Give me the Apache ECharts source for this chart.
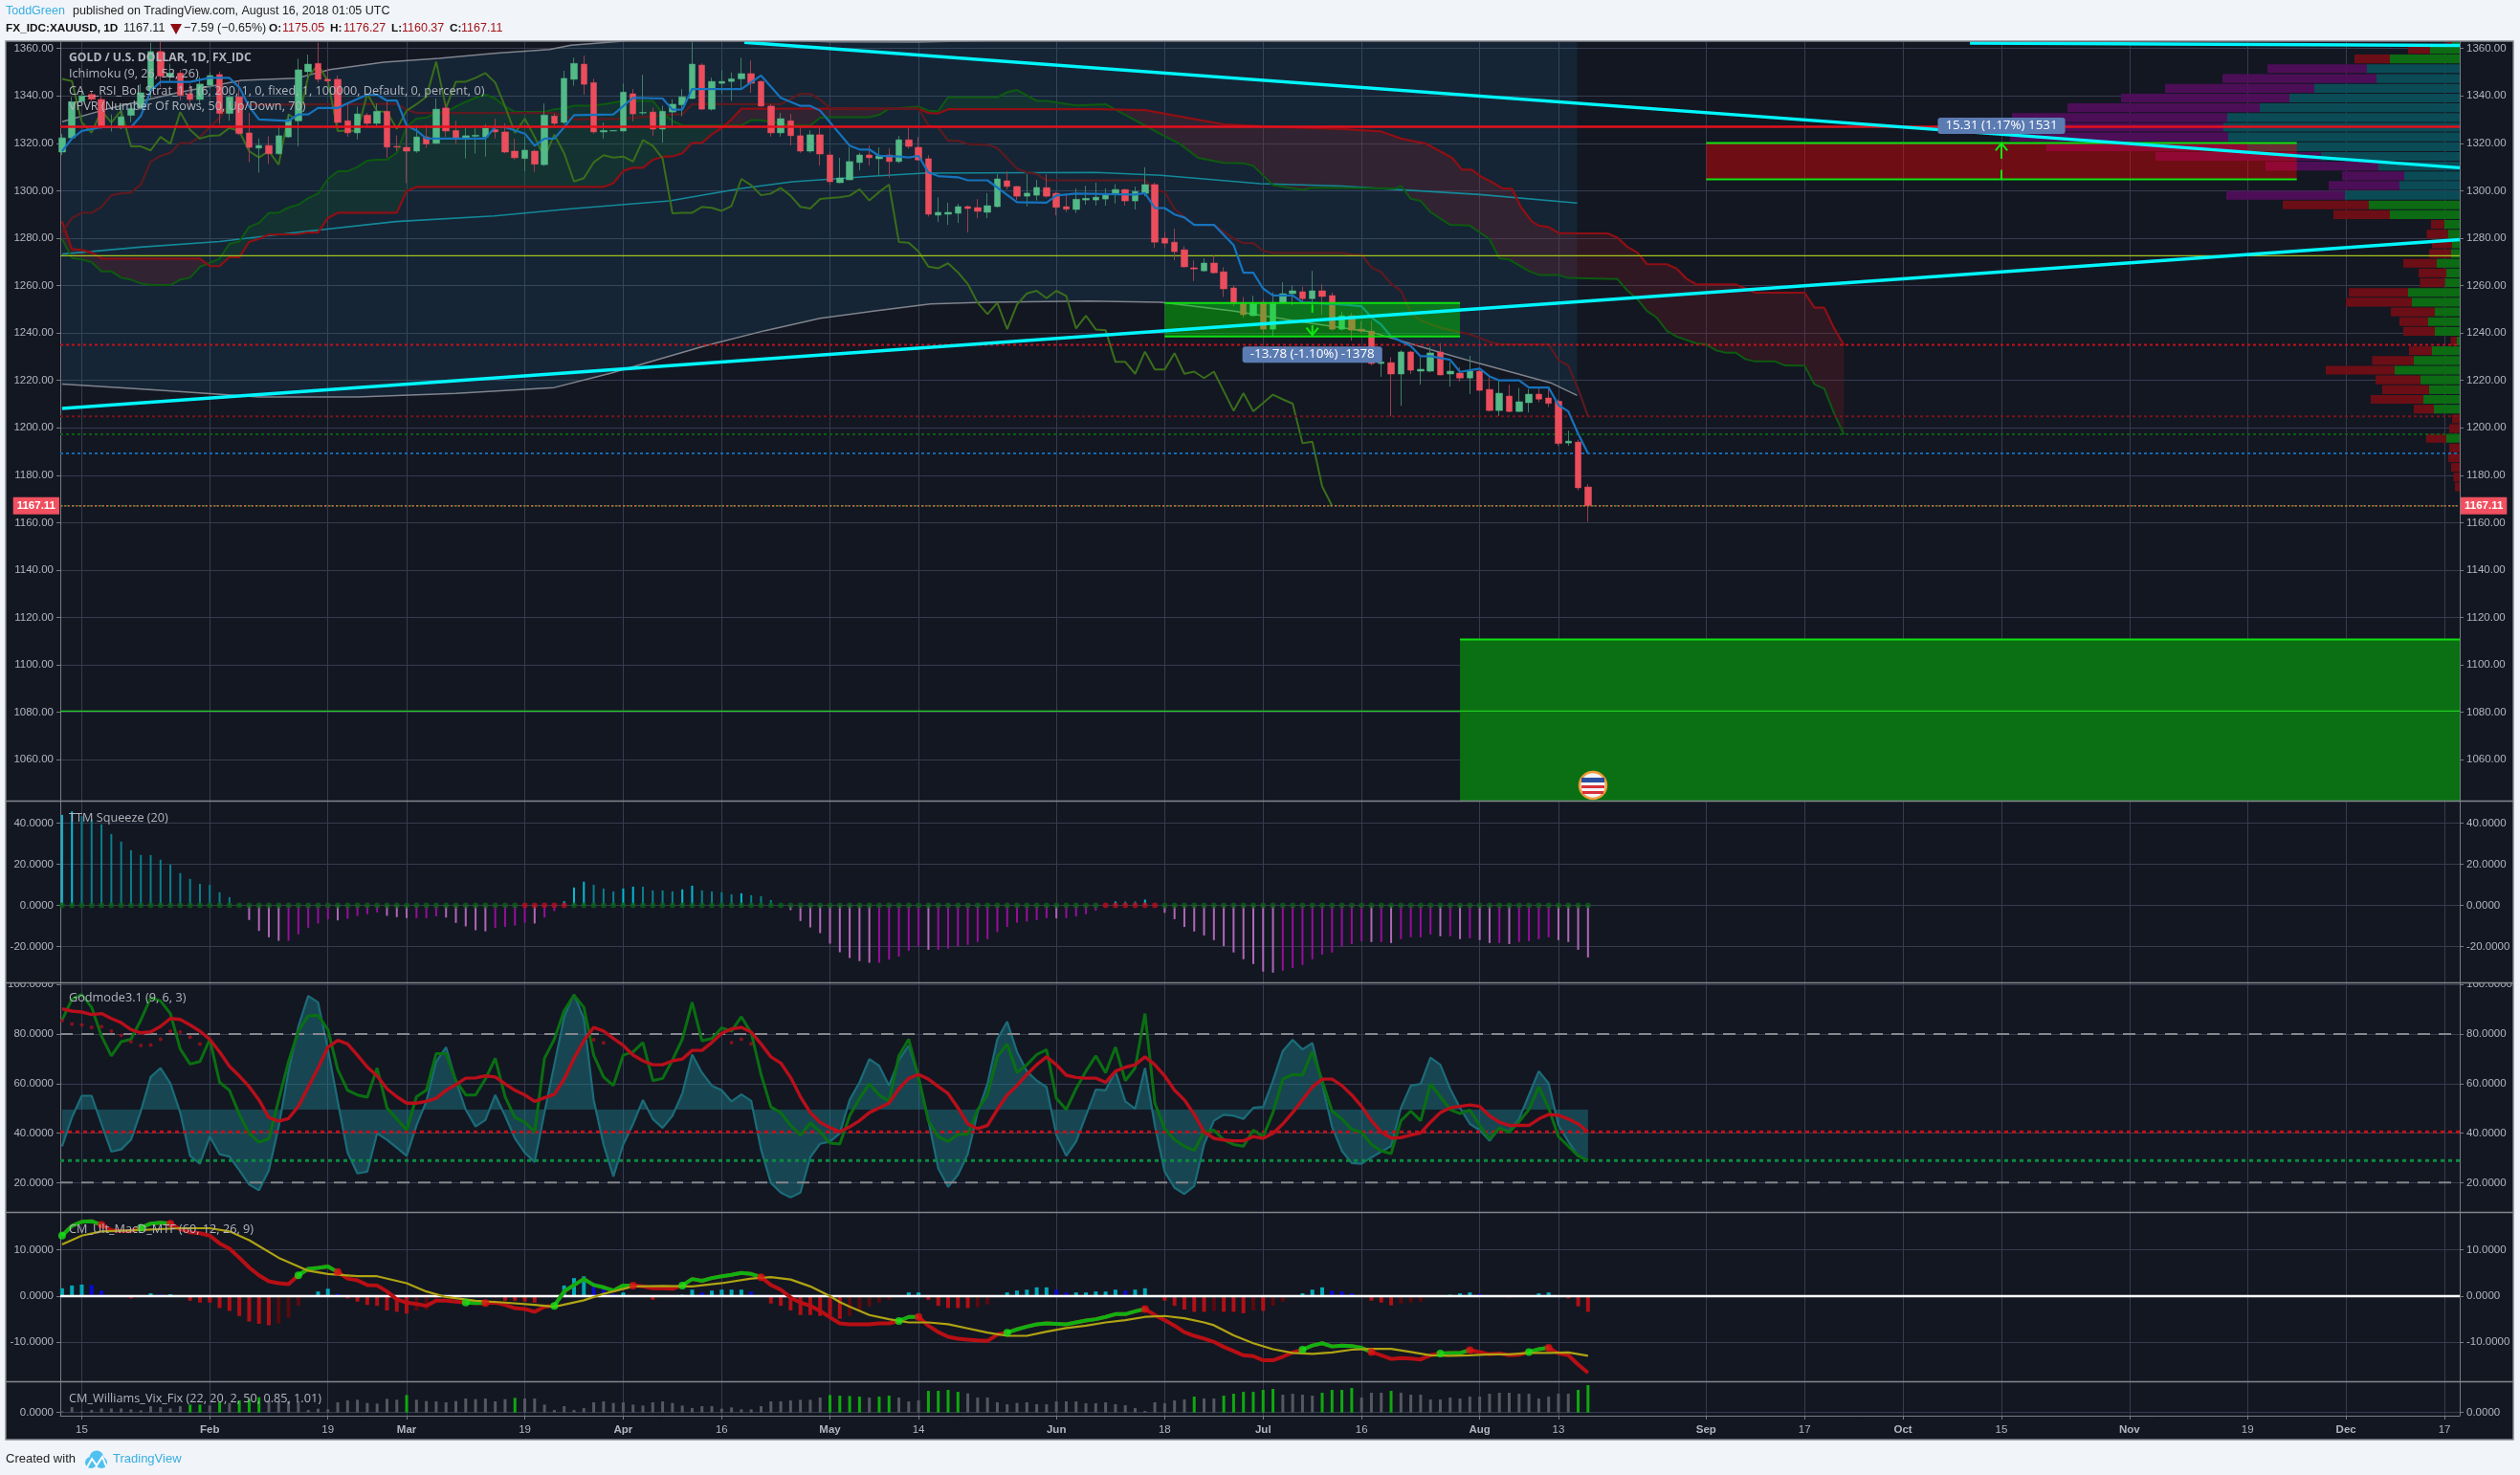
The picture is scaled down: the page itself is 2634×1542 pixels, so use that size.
<!DOCTYPE html>
<html><head><meta charset="utf-8">
<style>html,body{margin:0;padding:0;background:#f1f4f8}#c{width:2634px;height:1542px}</style>
<script src="https://cdn.jsdelivr.net/npm/echarts@6/dist/echarts.min.js"></script>
</head><body><div id="c"></div>
<script>
// ---------- candles: open, close, low, high (one row per trading day, first row = Jan 12 2018)
const candles = [
[1316.3,1322.3,1315,1324],[1322.3,1337.5,1321.4,1339.5],[1337.7,1340,1337,1342],[1340.6,1338.6,1337.9,1342],[1338.5,1326.8,1326,1340.3],
[1326.7,1327,1325,1332.2],[1326.5,1331.2,1326,1337],[1331.8,1334.6,1328.8,1337.4],[1334.9,1341.3,1334,1345],[1342.2,1358.7,1338.9,1362.5],
[1358.7,1348.3,1343.6,1363],[1348,1349.6,1346,1353.6],[1349.6,1340.2,1338,1351],[1340.9,1338.5,1336,1345],[1338.5,1345,1336,1348],
[1344.5,1348.6,1343,1350],[1349,1332.6,1328.1,1350.3],[1332.6,1339.6,1329.5,1340.5],[1339.6,1324.1,1323.4,1346.3],[1324.4,1318.3,1312,1332.8],
[1318,1319.1,1307.6,1322],[1319.1,1315.6,1311.3,1323],[1315.6,1323.2,1315.3,1327.5],[1322.7,1330,1322.4,1332.4],[1329.5,1351,1318.7,1355.7],
[1350.2,1353.4,1347.6,1357.4],[1353.7,1347,1345.6,1362.4],[1347,1346.3,1345,1351.7],[1347,1328.8,1328.1,1348.6],[1329.5,1324.4,1322.8,1336.8],
[1324.4,1332.4,1321.6,1335.5],[1331.9,1328.4,1326.5,1332.8],[1328.4,1333.5,1326.8,1336.8],[1333.5,1318.4,1313.9,1337.5],[1318.7,1318.4,1316.7,1323.4],
[1318.3,1316.7,1303.2,1328.8],[1316.7,1322.7,1316,1327.5],[1322.7,1319.7,1318,1327.8],[1320,1334.4,1319.7,1338.9],[1334.9,1325.2,1322.8,1337],
[1325.4,1321.7,1319.8,1329.5],[1321.7,1323.2,1313.6,1327],[1323,1323.4,1315.7,1326.3],[1322.7,1326.4,1314.4,1328.1],[1325.8,1324.8,1322,1330.4],
[1324.8,1316.3,1315.8,1328.4],[1316.7,1313.9,1313.2,1322],[1313.6,1317.1,1308.2,1322.8],[1316.7,1311.2,1308,1317.4],[1311,1331.9,1310.4,1336.8],
[1331.5,1328.4,1327.5,1332.5],[1328.8,1347.4,1328,1350.6],[1347,1353.7,1344.3,1356.1],[1353.4,1344.9,1340.5,1357],[1345.6,1324.8,1324.1,1347.2],
[1324.8,1325.4,1322,1328.8],[1325.2,1325.4,1325.2,1325.4],[1325.2,1341.6,1325,1345.2],[1340.9,1332.4,1329.2,1342.9],[1332.8,1333,1331.9,1348.9],
[1333.2,1326,1323.2,1335.1],[1326,1333.5,1320.3,1335.9],[1333.2,1336.5,1327.5,1338.6],[1336.2,1339.6,1331.5,1342.9],[1338.9,1353.4,1338.7,1362.6],
[1353,1334.4,1334.2,1353.7],[1334.4,1346.1,1333.8,1347.7],[1345.3,1346.1,1340.9,1350.9],[1346.1,1347.2,1337.9,1349.9],[1347.2,1349.4,1343.2,1356.1],
[1349.4,1345.3,1341.3,1355],[1346.1,1335.7,1335.5,1346.6],[1335.7,1324.4,1322.8,1336.5],[1324.4,1330.4,1322.8,1332.8],[1329.5,1323.2,1319.1,1332.4],
[1323.2,1316.7,1316,1326.8],[1316.7,1323.6,1316,1325.5],[1323.6,1315.5,1310.6,1326.5],[1315.1,1303.8,1302.3,1316.7],[1303.4,1305.4,1303.2,1313.9],
[1304.6,1312.3,1304.5,1318.3],[1311.9,1315.1,1308.6,1316],[1315.1,1313.9,1310.6,1319.1],[1313.5,1314.7,1306.6,1318.3],[1315.1,1312.3,1305.5,1318],
[1312.3,1321.5,1311.6,1323.1],[1321.5,1318.7,1317.8,1326.4],[1318.3,1313,1312.6,1322.7],[1313.5,1290.1,1289.1,1315],[1289.7,1290.9,1286.8,1297.2],
[1290.1,1290.9,1285.6,1294.9],[1290.5,1293.3,1286.4,1294.5],[1293.3,1292.5,1282.4,1293.8],[1292.9,1291.3,1288.4,1296.5],[1290.9,1293.7,1288.4,1299],
[1293.3,1305,1293,1307],[1304.2,1301.8,1300.6,1308.2],[1301.8,1297.7,1296.1,1302],[1297.7,1299,1293.4,1307],[1298.1,1301.4,1295.9,1304.6],
[1301.3,1297.7,1297,1306.9],[1298.9,1293,1289.6,1299.5],[1293.3,1292.2,1291,1298.7],[1292.1,1296.4,1290.6,1301],[1296.1,1296.8,1294.1,1302.1],
[1296.1,1297.3,1293.7,1303.4],[1296.5,1298.1,1293.7,1301],[1298.9,1300.5,1294.6,1302.7],[1300.5,1295.7,1293.7,1300.8],[1295.7,1299.7,1292.1,1301.7],
[1298.9,1302.6,1297.6,1309.9],[1302.6,1278.3,1275.9,1303.4],[1280,1277.9,1275.9,1282.7],[1278.3,1274.3,1270.7,1284],[1275.1,1267.9,1267.5,1276.6],
[1267.5,1267,1261.9,1270.7],[1266.2,1269.5,1266,1271.5],[1269.5,1265.4,1265,1272.6],[1265.8,1258.6,1255.2,1267.7],[1259,1252.5,1251.3,1260.1],
[1252.5,1247.7,1246.5,1255.2],[1247.3,1252.5,1247,1255.7],[1252.9,1241.6,1239.6,1254.3],[1241.6,1252.9,1238.8,1257.1],[1252.9,1256.6,1252.6,1261.4],
[1256.6,1257.8,1251.6,1260.1],[1257.4,1254.5,1253.3,1259.5],[1254.5,1257.8,1253,1266.2],[1257.8,1255.4,1247.7,1260.6],[1255.8,1241.6,1241,1257.1],
[1241.6,1247.3,1241,1248.9],[1247.3,1241.2,1236.8,1248.5],[1241.6,1240.8,1240,1245],[1240.8,1227.1,1226.4,1245.2],[1227.1,1227.8,1221.5,1231],
[1227.5,1222.7,1204.8,1229.8],[1222.7,1232,1209.3,1232.8],[1232,1224.3,1222.7,1232.5],[1223.9,1224.7,1218.2,1229.8],[1223.9,1231.6,1223.4,1234.1],
[1232,1222.3,1222.2,1235.7],[1222.7,1223.9,1217.4,1227.8],[1223.1,1221,1219.5,1225.5],[1221,1223.9,1214.2,1230.4],[1223.9,1215.8,1215.5,1224.7],
[1216.2,1207.3,1206.9,1221.4],[1207.3,1214.6,1205,1220.1],[1213.4,1206.9,1206.5,1218.2],[1206.9,1211,1206.6,1216.8],[1210.6,1214.2,1206.5,1216.4],
[1214.2,1212.1,1210.8,1217.4],[1212.6,1210.3,1208.8,1217],[1211.2,1193.4,1192.5,1212],[1193.6,1194.4,1192.4,1198.8],[1194,1174.7,1173.6,1195],
[1175.05,1167.11,1160.37,1176.27]];

// ---------- Ichimoku / Bollinger, as read (bar index, price)
const tenkan = [[0,1316.7],[1,1322],[2,1325.2],[4,1326.8],[7,1326.8],[8,1331.5],[9,1342.2],[10,1345.9],[13,1345.9],[15,1347.6],[17,1347.6],[18,1343.6],[19,1335.5],[20,1330.1],[23,1329.5],[24,1332.2],[25,1332.2],[26,1334.9],[28,1334.9],[29,1336.9],[31,1340.5],[32,1340.5],[33,1338],[34,1338],[35,1327.5],[36,1325.4],[37,1322],[43,1322],[44,1327],[45,1326.8],[47,1324.1],[48,1319],[49,1322],[50,1322],[51,1326.8],[52,1331.9],[56,1332.2],[58,1339.2],[61,1338.9],[62,1334.2],[63,1334.2],[64,1342.9],[69,1342.9],[71,1348.6],[73,1339.2],[75,1335.8],[76,1335.8],[77,1333.8],[80,1319],[81,1317.4],[82,1317.4],[83,1314.7],[85,1314.4],[86,1314],[87,1314.7],[88,1307.7],[89,1306.2],[91,1305.7],[92,1304.4],[94,1304.4],[97,1295.2],[100,1295],[101,1298],[103,1298.8],[109,1298.4],[110,1299],[111,1292.7],[112,1292.7],[113,1290],[114,1288.7],[115,1285.6],[117,1285.6],[119,1277.1],[120,1265.4],[121,1265.4],[122,1258.7],[123,1255.8],[125,1255.8],[126,1252.9],[127,1252.7],[130,1252],[132,1251.3],[133,1246.6],[134,1243.5],[135,1238.5],[137,1234.5],[138,1230.2],[139,1230.2],[141,1228.7],[142,1223.6],[144,1225],[145,1221.7],[146,1220],[148,1220],[149,1217],[151,1217],[152,1209.6],[153,1206.9],[154,1197.5],[155,1189.2]];
const kijun = [[0,1282.4],[1,1288.5],[2,1290.7],[3,1290.7],[4,1293.2],[5,1298.1],[6,1298.9],[7,1299.2],[8,1302.6],[9,1312.3],[10,1314.7],[11,1316],[12,1320.1],[13,1320.1],[14,1322.7],[16,1330.8],[17,1336.2],[33,1336.6],[34,1336.6],[35,1334.2],[36,1332.8],[50,1332.8],[52,1330.1],[57,1330.4],[62,1332.2],[63,1332.2],[64,1336.5],[73,1336.5],[75,1340.9],[76,1340.9],[77,1338.5],[78,1334.9],[87,1334.6],[88,1327.5],[89,1326.8],[90,1321.1],[91,1321.1],[92,1319.7],[94,1319.4],[95,1318],[97,1309.3],[98,1307.7],[99,1307.1],[100,1304.4],[110,1304.4],[111,1300.4],[112,1299.5],[113,1292.3],[115,1285.6],[117,1285.6],[119,1279.8],[120,1277.9],[121,1277.9],[122,1274.6],[123,1273.8],[130,1273.8],[131,1273.1],[132,1273],[133,1267.7],[134,1265.7],[135,1260.7],[136,1257.8],[137,1248.6],[138,1245.3],[140,1242.2],[142,1240.3],[143,1239.5],[145,1236.3],[146,1235.2],[151,1235.2],[152,1228.5],[153,1226.2],[154,1216.4],[155,1204.9]];
const chikou = [1347.2,1346.3,1328.8,1324.5,1333.8,1328.8,1333.8,1318.7,1318.7,1317,1322.7,1319.8,1333.2,1325.7,1322,1323.2,1323.4,1326.5,1325.2,1316.7,1314,1316.7,1311,1332.2,1329.5,1348.3,1353,1346.3,1325.2,1325.4,1325.2,1340.9,1333.5,1333.2,1326.1,1333.8,1336.5,1339.6,1354.4,1334.9,1346,1346,1347.6,1349.6,1345.6,1335.5,1324.4,1330.4,1322.7,1314,1323.7,1315.8,1303.9,1305.3,1312,1315,1314,1314.4,1312.3,1321.4,1319,1313.6,1290.5,1290.7,1290.7,1293.2,1292.8,1291.5,1293.6,1305,1302.3,1298.1,1298.8,1301.2,1297.9,1293.2,1292.5,1296.5,1296.9,1297.2,1297.9,1300.6,1295.9,1299.5,1302.6,1278.4,1278.1,1274.3,1268,1267.3,1269.4,1265.6,1260.7,1252.7,1248,1252.7,1241.6,1252,1256.7,1257.8,1254.7,1257.8,1255.6,1241.9,1247.3,1241.5,1241.2,1227.8,1227.8,1222.8,1232.1,1224.6,1224.6,1231.5,1222.8,1223.7,1221,1223.7,1215.5,1207.2,1214.6,1207,1210.5,1214,1212,1210.2,1193.5,1194.2,1175.3,1167.11];
const spanA = [[0,1279.7],[1,1271.6],[2,1271],[3,1269.9],[4,1266],[5,1266],[6,1263.3],[7,1262.5],[8,1260.9],[9,1260.2],[11,1260.2],[12,1262.5],[13,1263.3],[14,1267.9],[15,1269.6],[16,1271.4],[17,1277.7],[18,1278.6],[19,1284.8],[20,1286.4],[21,1290.7],[22,1290.7],[23,1292.9],[24,1294.1],[25,1296.9],[26,1298.8],[27,1304.9],[28,1308.2],[29,1308.2],[30,1310],[31,1312.7],[32,1313.1],[33,1313.1],[34,1316],[35,1327],[36,1330.4],[37,1330.8],[38,1332.8],[39,1333.2],[40,1335.5],[41,1337.5],[42,1339.2],[43,1340.5],[44,1338.9],[45,1335.5],[46,1333.2],[49,1333.2],[50,1334.4],[51,1334.9],[52,1335.9],[54,1335.9],[55,1336.5],[57,1337.9],[60,1337.9],[61,1332.8],[62,1329.5],[63,1327.5],[69,1327.5],[70,1329.8],[71,1329.7],[72,1329],[73,1328.4],[74,1327.5],[76,1327.5],[77,1330.8],[78,1331],[82,1331],[83,1332],[84,1334.6],[87,1335.5],[88,1333.8],[89,1333.6],[90,1339.4],[95,1339.4],[96,1341.6],[97,1342.5],[99,1337.9],[100,1337.9],[103,1336],[106,1336.5],[108,1332],[110,1327.5],[112,1323],[113.5,1319.9],[115.4,1313.9],[118,1311.8],[120,1311.6],[121,1310.5],[123,1302.4],[126,1300.4],[127,1301.3],[135.5,1301],[136,1302],[137,1296.6],[138,1295.7],[139,1291],[141,1285.6],[143,1285.3],[145,1279.6],[146,1271.5],[147,1271],[149,1266.1],[150,1264.5],[152,1264.5],[153,1263.2],[158,1262.7],[159,1257.9],[160,1254.3],[161,1249.3],[162,1246.4],[163,1240.9],[164,1238.5],[166,1235.6],[167,1235.2],[168,1232.7],[169,1231.7],[170,1231.7],[171,1228.9],[172,1228],[174,1228],[175,1226.3],[177,1226.2],[178,1218.4],[179,1216.5],[180,1206.1],[181,1197.2]];
const spanB = [[0,1287.1],[1,1275.4],[2,1275],[3,1274],[4,1271.4],[14,1271.4],[15,1268.2],[16,1268.2],[17,1272],[18,1272],[19,1278.4],[20,1279.7],[21,1281.5],[24,1281.7],[25,1282.4],[26,1282.4],[27,1288.5],[28,1290.7],[34,1290.7],[35,1299.9],[36,1301.6],[55,1301.6],[56,1303.2],[57,1308.4],[58,1309.7],[59,1309.7],[60,1313],[61,1314.3],[62,1314.5],[63,1315.8],[64,1320.2],[65,1320.2],[66,1323.8],[67,1326.5],[68,1330.1],[69,1334.6],[87,1334.6],[88,1332.8],[89,1332.6],[90,1334.4],[105,1334.4],[110,1334],[114,1331],[118,1328],[124,1326.8],[130,1326],[134,1325],[136,1322],[138.5,1319.9],[141.2,1313.9],[142.2,1308.9],[143.2,1308.9],[144.2,1305.8],[145.3,1303.5],[146.3,1301],[147.3,1300.8],[148.2,1293],[149.3,1287],[150,1285.3],[151,1284.7],[152,1282.2],[154,1282],[157,1282],[158,1280.2],[159,1276.3],[160,1274],[161,1269],[163,1269],[164,1267.2],[165,1262.9],[166,1260.5],[170,1260.5],[172,1257],[177,1257],[178,1250.7],[179,1250.7],[180,1242],[181,1234.9]];
const bbUpper = [[0,1329.1],[4.85,1334.8],[11.8,1341.4],[18.2,1346.6],[23.8,1347.5],[27.2,1351.1],[32.7,1354.2],[38.3,1355.8],[43.9,1358],[49.5,1359.6],[51.7,1361.4],[56.7,1363],[60,1364.5],[70,1364],[78,1362.8],[87,1362.7],[95,1363.5],[110,1364],[125,1365],[154,1366]];
const bbMid = [[0,1273.3],[7.9,1276.2],[16,1278.6],[23.8,1282.4],[33.9,1287],[43.9,1289.4],[51.7,1292.4],[61.7,1295.7],[69,1301],[74.2,1303.8],[82.6,1306.2],[87.6,1307.4],[105,1307.7],[111.6,1306.5],[121.7,1303],[130,1302],[135.6,1300.5],[144,1298.4],[153.9,1294.8]];
const bbLower = [[0,1218.5],[10,1215.8],[20,1213],[30,1213],[40,1214.5],[50,1217],[55.7,1223],[65.5,1234.8],[71.4,1241],[77,1246.2],[82.6,1249.3],[88.2,1252.3],[93.7,1253],[104.3,1253.5],[111.6,1253],[118.9,1249.3],[127.2,1243.9],[132.8,1240.6],[140,1231.8],[144,1227.1],[151.2,1219],[153.9,1213.7]];

// ---------- drawing tools
const trendLines = [[[0,1208.2],[243.55,1279.4]],[[69.3,1362.6],[243.55,1309.7]],[[193.8,1362.3],[243.55,1361.3]]];
const priceLevels = [1327,1272.6,1235,1204.8,1197.3,1189.2,1167.11,1080.5];
const targetZone = [142,243.55,1110.7,1042.76];
const shortBox = [112,142,1252.7,1238.5];
const longBox = [167,227,1320.1,1304.8];

// ---------- VPVR rows: mid price, up volume, down volume
const vpvrPrice = [1362.6,1359.6,1355.6,1351.5,1347.3,1343.2,1339.1,1335,1330.9,1326.8,1322.7,1318.6,1314.5,1310.4,1306.3,1302.2,1298.1,1294,1289.9,1285.8,1281.7,1277.6,1273.5,1269.4,1265.3,1261.2,1257.1,1253,1248.9,1244.8,1240.7,1236.6,1232.5,1228.4,1224.3,1220.2,1216.1,1212,1207.9,1203.8,1199.7,1195.6,1191.5,1187.4,1183.3,1179.2,1175.1];
const vpvrUp = [8,31,73,97,87,152,178,209,243,247,242,222,145,85,58,63,120,95,73,16,12.5,8,9,24,14,15.5,54,50,26,33,26,3,29,48,68,41,32,38,27,0,0,14,0,0,0,0,0];
const vpvrDown = [6,23,37,104,161,156,176,201,225,242,228,210,173,118,65,74,124,90,59,14,22,21,23,35,29,26,62,69,46,30,33,6.5,24,43.5,72,47,49,55,21,8,11,21,11,12,9,6.5,5];
const vpvrValueArea = [1298,1353];

// ---------- TTM Squeeze
const ttmValues = [44,45.7,43.4,41.9,39.4,34.7,31,26.8,24.5,24.5,22.2,19.8,15.7,12.9,10.5,10,6.4,4,0.5,-7.1,-12.4,-15.5,-17.2,-17.2,-14.1,-10.9,-8.8,-6.7,-7.3,-6.5,-5.1,-4.3,-3.4,-5.1,-5.7,-6.2,-6.2,-6.2,-5.3,-5.9,-8.5,-10.2,-12.1,-12.6,-10.9,-10.4,-9.8,-8.5,-8.8,-5.9,-2.8,2,8.7,11.5,10,8.2,6.8,8.2,9.1,9.1,7.3,7.3,6.8,7.8,9.6,7.3,6.8,6.4,5.4,5.9,5,4.5,2.6,0.3,-2.3,-7.6,-10.7,-13.5,-18.6,-22.8,-25.6,-27.1,-27.9,-27.9,-26.4,-24.9,-22,-20,-21.6,-21.6,-21,-19.9,-19.2,-17.8,-16.4,-13,-10.5,-8.4,-7.8,-7.1,-6.2,-6.3,-6.2,-5.4,-4.3,-2.6,-0.3,1.9,1.9,1.9,2.8,0.3,-3.6,-6.7,-10.5,-12.7,-14.6,-16.9,-19.8,-22.9,-26.2,-28.5,-32.2,-32.7,-31.8,-30.4,-29,-26.2,-23.9,-22.9,-20,-18.8,-17.4,-17.8,-17.8,-18.3,-16.4,-15.5,-15.5,-14.1,-15,-15,-16.4,-16,-16.9,-18.3,-18.3,-18.8,-17.8,-17.4,-16.4,-15.5,-16.9,-17.8,-21.6,-25.3];
const squeezeBars = [47,48,49,50,51,106,107,108,109,110,111];

// ---------- Godmode
const godTeal = [34.7,46.3,55.1,55.1,43.7,32.5,33.4,37.3,48.9,62.7,66.3,60.1,48.3,30.8,27.6,38.6,31.5,30.5,25,19.2,16.9,25,42.5,65,83.1,95.4,92.8,74,52.8,32.1,23.7,24.4,39.9,37.3,34.1,30.8,43.1,52.8,68.9,74.7,61.2,49.5,42.7,45.3,55.4,47,37.9,32.1,28.3,48.3,67.6,87,96,86.3,53.4,35.4,22.5,35.4,43.7,53.4,45.7,42.1,47,56,71.7,64.4,59.2,57.3,52.8,55.6,53,33.4,19.9,16,14,16,30.2,35.7,36.6,39.9,53.4,60.5,69.9,67.2,59.2,69.5,75.4,62.5,45,25.7,18.3,23.1,31.5,48.3,59.9,77.9,85,72.8,65,61.2,58.6,39.2,30.8,36.6,47,57.6,57.3,65,52.8,49.8,66.3,43.1,24.4,17.9,15.4,18.6,35.4,45,47.4,47,45.7,50.2,50.6,61.2,73.2,77.7,73.8,76.4,59.9,42.5,32.8,27.9,27.6,30.2,32.5,34.7,50.2,59.2,59.9,70.5,67.6,57.9,50.2,43.7,41.2,36.9,41.8,40.8,45.7,55.4,65,60.1,43.1,36.6,30.8,28.9];
const godGreen = [85.7,94.1,96,90.8,79.2,71.2,76.9,77.9,85.7,94.7,93.4,88.3,74,67.9,68.9,77.9,60.5,57.3,47.6,39.9,36.3,37.7,53.4,68.9,81.2,87.4,87.6,81.8,65.7,57.3,55.4,54.5,66.3,50.2,45.7,41.2,54.7,57.3,72.1,72.1,61.2,55.4,55.4,61.8,70.2,54.7,46.3,44.4,40.5,70.2,77.9,89.5,95.7,90.8,71.5,62.7,59.2,71.5,72.8,76.6,61.2,62.1,69.5,77.9,92.8,77.3,78.2,82.5,81.2,87,80.5,63.7,50.5,48.3,43.1,39.2,44.1,40.5,36,35.6,47,54,59.9,55.4,52.8,71.2,77.9,62.5,45,38.6,36.6,39.5,39.5,49.5,55.4,70.8,76,64.4,67.6,71.7,73.7,54,49.5,57.9,65,71.2,64.4,74.7,61.2,66.3,88.3,52.1,41.8,37.3,34.7,33,40.5,41.2,37.3,35.4,34.7,41.2,38.6,48.3,61.8,63.7,63.4,73,61.2,48.9,45.7,41.5,40.3,35.4,32.8,31.7,45,48.9,45,59.9,54.7,49.5,47.9,49.3,43.1,37.7,42.1,40.3,44.6,49.5,58.6,50.2,38.6,34.7,30.8,28.9];
const godRed = [90.2,89.3,88.9,87.9,88.3,86.3,84.6,81.8,80.5,80.9,83.1,86.3,85.9,83.7,81.2,77.9,72.8,67,63.1,58.8,53.4,46.3,44.8,45.9,50.8,58.6,66.3,74.7,77.5,76,71.5,66.7,63.1,57.9,54.7,52.1,52.1,52.8,54.1,57.3,59.6,62.2,62.3,63.1,62.7,59.9,57.3,55.4,52.8,54.3,55.6,61.8,70.2,77.3,82.7,81.2,78.2,75.4,71.5,69.2,67.6,67.6,69.2,69.9,73.4,73.4,76.6,80.3,82.1,82.7,80.8,76,70.8,68.3,62.5,54.7,48.3,44.4,42.2,40.5,42.5,45,48.3,50.2,52.1,57.9,62.1,63.7,61.8,58.8,56,50.2,43.7,41.8,43.1,49.5,55.4,59.2,63.7,67.6,70.8,67.6,63.4,62.5,62.2,62.2,60.5,65,66.6,67.6,70.8,67.6,63.1,57.3,53.4,47.6,40.5,37.9,37.2,36.9,36.9,38.6,37.9,39.9,43.7,48.3,53.4,58.6,61.8,61.8,59.2,55.4,50.8,45,40.5,38,38.2,39.2,40.1,44.4,48.3,50.2,50.8,51.4,50.8,47,44.4,43.1,43.1,43.1,45.7,47.5,47.2,45.7,43.7,40.5];
const godRedDots = [[0,85.4],[1,84.1],[2,83.7],[3,82.7],[4,83],[5,81.2],[6,79.5],[7,76.9],[8,75.4],[9,75.6],[10,77.9],[11,81.2],[12,80.8],[13,78.8],[14,76],[54,77.7],[55,76.4],[68,76.5],[69,77.9],[70,76.1]];
const godBase = 49.5, godLevels = [80,40.5,28.9,20];

// ---------- CM Ult MacD
const macdHist = [1.7,2.3,2.5,2.4,1.2,0.05,-0.1,-0.5,-0.2,0.6,0.4,0.4,-0.1,-1,-1.4,-1.4,-2.6,-3.2,-4.3,-5.5,-6,-6.3,-5.9,-4.7,-2.1,0.05,1,1.6,0.5,-0.5,-1.2,-1.9,-2.1,-3.1,-3.4,-3.8,-3.1,-2.9,-1,-0.1,-0.1,-0.1,-0.1,-0.1,-0.3,-1,-1,-1.2,-1.4,-0.1,0.05,2.3,3.9,4.3,2.9,1.6,0.5,0.8,0.1,-0.1,-0.8,-0.3,0.05,0.3,1.4,0.8,1.2,1.4,1.4,1.4,1,0.1,-1.6,-2.1,-3.1,-4.1,-4.1,-4.3,-4.3,-4.9,-4.3,-3.2,-2.2,-1.4,-0.8,0.05,0.8,0.8,-0.8,-2.1,-2.6,-2.6,-2.6,-2.4,-1.8,-0.3,0.8,1.2,1.4,1.9,1.9,1.4,0.8,0.8,0.8,1,1,1.4,1.2,1.4,1.7,0.05,-1,-2.1,-2.9,-3.4,-3.4,-3.2,-3.4,-3.4,-3.7,-3.1,-3.2,-2.1,-1.2,0.05,0.6,1.4,1.9,1.2,1,0.6,0.05,-1,-1.4,-2,-1.6,-1.4,-1.2,0.05,0.05,0.3,0.6,0.8,0.5,0.05,0.05,-0.3,-0.1,0.05,0.6,0.8,0.05,-0.5,-2.2,-3.4];
const macdLine = [13.1,15.2,16.1,16.2,15.4,14.3,14.1,14.1,14.8,15.7,15.9,15.7,14.5,13.8,13.6,13.1,11.4,10.3,8.3,6.2,4.5,3.2,2.8,2.6,4.5,5.9,6.1,6.4,5.2,3.8,3.4,2.4,2.3,1,-0.7,-1.4,-1.7,-2.1,-1,-1,-1.2,-1.4,-1.5,-1.5,-1.4,-1.9,-2.6,-2.8,-3.4,-2.3,-2.1,1,2.4,3.7,2.4,1.9,1.2,2.3,2.3,2.1,1.7,1.7,1.6,2.3,3.7,3.3,3.9,4.3,4.6,5,4.8,4.1,2.4,1.4,-0.3,-1.4,-2.1,-3.2,-4.6,-5.9,-6.1,-6.1,-6.1,-5.9,-5.9,-5.4,-4.5,-4.5,-6.4,-7.8,-8.8,-9.2,-9.4,-9.6,-9.7,-8.3,-7.9,-7.2,-6.6,-6.1,-5.9,-6,-6.1,-5.7,-5.3,-5,-4.5,-3.9,-3.9,-3.3,-2.8,-4.1,-5.2,-6.4,-7.8,-8.6,-9.2,-9.9,-11,-11.9,-12.8,-13,-13.9,-13.9,-13.1,-12.2,-11.6,-10.7,-10.2,-10.9,-10.7,-10.8,-11.2,-12.1,-12.8,-13.6,-13.4,-13.5,-13.7,-12.8,-12.4,-12.3,-12.3,-11.7,-12.1,-12.6,-12.4,-12.8,-12.7,-12.1,-11.5,-11.2,-12.4,-12.8,-14.8,-16.6];
const macdSignal = [[0,11.2],[2,13.1],[4,14],[8,14.3],[12,14.7],[15,14.7],[17,14],[19,12.1],[22,8.3],[25,5.5],[27,4.8],[30,4.3],[32,4.3],[35,2.8],[37,1],[39,-0.2],[42,-1],[45,-1.4],[48,-1.9],[50,-2.3],[53,-0.9],[55,0.5],[58,2.1],[61,2.2],[64,2.1],[67,2.8],[70,3.8],[72,4.1],[74,3.6],[76,2.1],[78,0],[79,-1.3],[80,-2.3],[82,-4.1],[84,-5],[86,-5.7],[88,-5.7],[90,-6.1],[92,-7],[94,-7.9],[96,-8.6],[98,-8.6],[100,-7.7],[102,-6.9],[104,-6.4],[106,-5.7],[108,-5.2],[110,-4.5],[112,-4.3],[114,-4.8],[116,-5.7],[117,-6.3],[119,-8.5],[121,-10.2],[123,-11.5],[125,-12.3],[127,-12.5],[129,-12.2],[131,-11.6],[133,-11.4],[135,-11.4],[137,-12.1],[139,-12.8],[141,-12.9],[143,-12.8],[145,-12.6],[147,-12.6],[149,-12.3],[151,-12.3],[153,-12.2],[155,-12.9]];
const macdAbove = [[0,4],[8,11],[24,28],[41,43],[50,58],[63,71],[85,87],[96,110],[126,133],[140,143],[149,151]];

// ---------- CM Williams Vix Fix
const vixValues = [.04,.17,.04,.08,.13,.13,.13,.10,.07,.20,.17,.13,.20,.25,.25,.22,.32,.30,.38,.42,.48,.37,.35,.35,.35,.08,.12,.10,.32,.38,.40,.30,.28,.43,.40,.55,.40,.36,.35,.32,.36,.44,.42,.44,.35,.42,.46,.44,.44,.25,.08,.20,.08,.14,.32,.35,.30,.32,.25,.22,.32,.35,.30,.22,.14,.20,.20,.12,.16,.10,.10,.20,.35,.35,.38,.40,.40,.47,.55,.53,.52,.50,.47,.50,.53,.47,.35,.38,.68,.68,.71,.65,.60,.47,.47,.32,.26,.30,.32,.26,.26,.35,.35,.35,.29,.29,.32,.26,.23,.14,.05,.32,.29,.38,.41,.50,.44,.44,.53,.59,.65,.65,.71,.74,.56,.59,.56,.53,.62,.71,.71,.77,.47,.62,.62,.68,.62,.56,.56,.41,.41,.47,.44,.50,.50,.59,.62,.62,.59,.59,.44,.50,.59,.59,.71,.86];
const vixFlagged = [13,14,16,18,19,20,35,46,78,79,80,81,83,84,88,89,90,91,115,118,119,120,121,122,123,128,129,130,131,135,154,155];

// ---------- axes
const timeTicks = [2,15,27,35,47,57,67,78,87,101,112,122,132,144,152,167,177,187,197,210,222,232,242];
const timeLabels = ['15','Feb','19','Mar','19','Apr','16','May','14','Jun','18','Jul','16','Aug','13','Sep','17','Oct','15','Nov','19','Dec','17'];
const priceTicks = [1060,1080,1100,1120,1140,1160,1180,1200,1220,1240,1260,1280,1300,1320,1340,1360];
const ttmTicks = [-20,0,20,40], godTicks = [20,40,60,80,100], macdTicks = [-10,0,10], vixTicks = [0];

// ---------- layout and colours
const GRID='#363c4e', AXIS='#787b86', TXT='#b2b5be', FONT='"Liberation Sans"', LBL='"Open Sans"';
const L=63, W=2508, xMin=-0.185, xMax=243.55;
const panes=[
 {top:44,bottom:837,min:1042.76,max:1362.7,ticks:priceTicks,dec:2},
 {top:838,bottom:1027,min:-37.44,max:50.47,ticks:ttmTicks,dec:4},
 {top:1028,bottom:1267,min:8.15,max:100.5,ticks:godTicks,dec:4},
 {top:1268,bottom:1444,min:-18.43,max:18.01,ticks:macdTicks,dec:4},
 {top:1445,bottom:1480,min:-0.099,max:0.951,ticks:vixTicks,dec:4}];

const grid=panes.map(p=>({left:L,width:W,top:p.top,height:p.bottom-p.top}));
const xAxis=panes.map((p,n)=>({type:'value',gridIndex:n,min:xMin,max:xMax,position:'bottom',
  axisLine:{show:n===4,onZero:false,lineStyle:{color:AXIS}},
  axisTick:{show:n===4,customValues:timeTicks,length:4,lineStyle:{color:AXIS}},
  splitLine:{show:true,lineStyle:{color:GRID,width:1}},
  axisLabel:{show:n===4,customValues:timeTicks,margin:9,color:TXT,fontFamily:FONT,fontSize:11.5,hideOverlap:false,
    formatter:v=>{const t=timeLabels[timeTicks.indexOf(v)]||'';return /[A-Z]/.test(t)?'{b|'+t+'}':'{n|'+t+'}';},
    rich:{b:{fontWeight:'bold',color:TXT,fontFamily:FONT,fontSize:11.5},n:{color:TXT,fontFamily:FONT,fontSize:11.5}}}}));
xAxis.push({type:'value',gridIndex:0,min:0,max:W,inverse:true,show:false,position:'top'});
const yAx=(p,n,pos)=>({type:'value',gridIndex:n,min:p.min,max:p.max,position:pos,scale:true,
  axisLine:{show:true,onZero:false,lineStyle:{color:AXIS}},
  axisTick:{show:true,customValues:p.ticks,length:4,lineStyle:{color:AXIS}},
  splitLine:{show:pos==='left',lineStyle:{color:GRID,width:1.2}},
  axisLabel:{customValues:p.ticks,color:TXT,fontFamily:FONT,fontSize:11.5,margin:7,showMinLabel:true,showMaxLabel:true,hideOverlap:false,formatter:v=>v.toFixed(p.dec)}});
const yAxis=panes.map((p,n)=>yAx(p,n,'left')).concat(panes.map((p,n)=>yAx(p,n,'right')));

const series=[];
const lineS=(g,data,color,width,z,extra)=>series.push(Object.assign({type:'line',xAxisIndex:g,yAxisIndex:g,data,symbol:'none',smooth:false,silent:true,z,animation:false,
   lineStyle:{color,width}},extra||{}));
const hLevel=(g,v,color,width,dash,z,x1)=>lineS(g,[[xMin,v],[x1===undefined?xMax:x1,v]],color,width,z,{lineStyle:{color,width,type:dash||'solid'}});
const idx=a=>a.map((v,i)=>[i,v]);
function valueAt(arr,x){for(let i=1;i<arr.length;i++){if(x<=arr[i][0]){const a=arr[i-1],b=arr[i];return a[1]+(b[1]-a[1])*(x-a[0])/(b[0]-a[0]);}}return arr[arr.length-1][1];}
function bandPts(a,b,x0,x1){const top=a.filter(p=>p[0]>x0&&p[0]<x1),bot=b.filter(p=>p[0]>x0&&p[0]<x1).reverse();
  return [[x0,valueAt(a,x0)],...top,[x1,valueAt(a,x1)],[x1,valueAt(b,x1)],...bot,[x0,valueAt(b,x0)]];}
const polySeries=(polys,z)=>series.push({type:'custom',xAxisIndex:0,yAxisIndex:0,z,clip:true,silent:true,animation:false,data:polys.map((p,i)=>[i]),
  renderItem:(params,api)=>{const s=polys[params.dataIndex];return {type:'polygon',shape:{points:s.pts.map(q=>api.coord(q))},style:{fill:s.fill}};}});

// Bollinger fill, then Ichimoku cloud
polySeries([{pts:bandPts(bbUpper,bbLower,0,153.9),fill:'rgba(40,140,200,0.12)'}],1);
const cloudRed='rgba(150,30,35,0.22)',cloudGreen='rgba(20,120,40,0.16)';
const zones=[[0,14.7,cloudRed],[14.7,67.3,cloudGreen],[67.3,84,cloudRed],[84,107.5,cloudGreen],[107.5,181,cloudRed]];
polySeries(zones.map(z=>({pts:bandPts(spanA,spanB,z[0],z[1]),fill:z[2]})),2);

// VPVR on its own volume axis
const vpvrRows=vpvrPrice.map((p,i)=>[p,vpvrUp[i],vpvrDown[i]]);
series.push({type:'custom',xAxisIndex:5,yAxisIndex:0,z:2,clip:true,silent:true,animation:false,data:vpvrRows,
  encode:{x:1,y:0},
  renderItem:(params,api)=>{const r=vpvrRows[params.dataIndex],inVA=r[0]>vpvrValueArea[0]&&r[0]<vpvrValueArea[1];
    const t=r[0]+1.85,b=r[0]-1.85;const rect=(v0,v1,fill)=>{const a=api.coord([v0,t]),c=api.coord([v1,b]);return {type:'rect',shape:{x:c[0],y:a[1],width:a[0]-c[0],height:c[1]-a[1]},style:{fill}};};
    return {type:'group',children:[rect(0,r[1],inVA?'rgba(10,78,90,0.95)':'rgba(12,112,19,0.95)'),rect(r[1],r[1]+r[2],inVA?'rgba(80,14,92,0.95)':'rgba(113,14,21,0.95)')]};}});

// Bollinger and Ichimoku lines
lineS(0,bbUpper,'#80838c',1.5,3);lineS(0,bbLower,'#80838c',1.5,3);lineS(0,bbMid,'#13899a',1.6,3);
lineS(0,spanA,'#0d5a10',2,3);lineS(0,spanB,'#8f0f14',2.2,3);
lineS(0,kijun,'#5c1a20',2.2,3);lineS(0,idx(chikou),'#3a6e1b',2,3);

// Candles: dim wick series, then bright body series
const upBody='#53b987',dnBody='#eb4d5c';
const wickData=candles.map((c,i)=>[i,c[0],c[1],c[2],c[3]]);
const bodyData=candles.map((c,i)=>[i,c[0],c[1],Math.min(c[0],c[1]),Math.max(c[0],c[1])]);
series.push({type:'candlestick',xAxisIndex:0,yAxisIndex:0,z:4,silent:true,animation:false,barWidth:1,data:wickData,clip:true,
  itemStyle:{color:'#3f8065',color0:'#96404d',borderColor:'#3f8065',borderColor0:'#96404d',borderWidth:1}});
series.push({type:'candlestick',xAxisIndex:0,yAxisIndex:0,z:4,silent:true,animation:false,barWidth:7,data:bodyData,clip:true,
  itemStyle:{color:upBody,color0:dnBody,borderColor:upBody,borderColor0:dnBody,borderWidth:0.5}});
lineS(0,tenkan,'#1673bd',2.2,4.5);

// horizontal levels
hLevel(0,priceLevels[1],'#a3c31f',1.2,'solid',3);
hLevel(0,priceLevels[3],'#7a1419',2,[3,3],3);
hLevel(0,priceLevels[4],'#0c5c14',2,[3,3],3);
hLevel(0,priceLevels[5],'#1668ad',2,[3,3],3);
hLevel(0,priceLevels[2],'#c6101b',2,[3,3],3);
hLevel(0,priceLevels[6],'#18701c',1.4,[3,3],5);
hLevel(0,priceLevels[6],'#ef6a50',1.2,[2,2],5);

// position boxes
const boxes=[{b:shortBox,fill:'rgba(0,235,0,0.4)'},{b:longBox,fill:'rgba(250,0,0,0.4)'},{b:targetZone,fill:'#0b7013',noBottom:true}];
series.push({type:'custom',xAxisIndex:0,yAxisIndex:0,z:5,clip:true,silent:true,animation:false,data:boxes.map((b,i)=>[i]),
  renderItem:(params,api)=>{const o=boxes[params.dataIndex],a=api.coord([o.b[0],o.b[2]]),c=api.coord([o.b[1],o.b[3]]);
    const hl=(y)=>({type:'line',shape:{x1:a[0],y1:y,x2:c[0],y2:y},style:{stroke:'#10e010',lineWidth:2}});
    const kids=[{type:'rect',shape:{x:a[0],y:a[1],width:c[0]-a[0],height:c[1]-a[1]},style:{fill:o.fill}},hl(a[1])];
    if(!o.noBottom)kids.push(hl(c[1]));
    return {type:'group',children:kids};}});
hLevel(0,priceLevels[7],'#22cc22',1.2,'solid',6);
hLevel(0,priceLevels[0],'#e5101e',2.4,'solid',6);
trendLines.forEach(t=>lineS(0,t,'#00f6ff',3.4,6));

// arrows of the position tools
const arrows=[{x:127,segs:[[1252,1248.6],[1243.3,1239.2]],tip:1239.2,dir:-1,wing:3},{x:197,segs:[[1304.8,1308.8],[1313.5,1320]],tip:1320,dir:1,wing:3}];
series.push({type:'custom',xAxisIndex:0,yAxisIndex:0,z:7,clip:true,silent:true,animation:false,data:arrows.map((a,i)=>[i]),
  renderItem:(params,api)=>{const o=arrows[params.dataIndex];const kids=[];const st={stroke:'#10e810',lineWidth:2};
    o.segs.forEach(s=>{const a=api.coord([o.x,s[0]]),b=api.coord([o.x,s[1]]);kids.push({type:'line',shape:{x1:a[0],y1:a[1],x2:b[0],y2:b[1]},style:st});});
    const t=api.coord([o.x,o.tip]),l=api.coord([o.x-0.6,o.tip-o.dir*o.wing]),r=api.coord([o.x+0.6,o.tip-o.dir*o.wing]);
    kids.push({type:'polyline',shape:{points:[l,t,r]},style:Object.assign({fill:'none'},st)});
    return {type:'group',children:kids};}});

// measure labels and last-price tags
const tags=[{x:127,p:1230.9,t:'-13.78 (-1.10%) -1378',bg:'#5b7cb3',font:'13.4px '+LBL,pad:[2,8]},
            {x:197,p:1327.4,t:'15.31 (1.17%) 1531',bg:'#5b7cb3',font:'13.4px '+LBL,pad:[2,8]}];
series.push({type:'custom',xAxisIndex:0,yAxisIndex:0,z:8,clip:false,silent:true,animation:false,data:tags.map((a,i)=>[i]),
  renderItem:(params,api)=>{const o=tags[params.dataIndex],c=api.coord([o.x,o.p]);
    return {type:'text',x:c[0],y:c[1],style:{text:o.t,fill:'#fff',font:o.font,align:'center',verticalAlign:'middle',backgroundColor:o.bg,padding:o.pad,borderRadius:3}};}});
const lastTags=[{x:xMin,al:'right',dx:-1},{x:xMax,al:'left',dx:1}];
series.push({type:'custom',xAxisIndex:0,yAxisIndex:0,z:9,clip:false,silent:true,animation:false,data:lastTags.map((a,i)=>[i]),
  renderItem:(params,api)=>{const o=lastTags[params.dataIndex],c=api.coord([o.x,priceLevels[6]]);
    return {type:'text',x:c[0]+o.dx,y:c[1],style:{text:priceLevels[6].toFixed(2),fill:'#fff',font:'bold 11.5px '+FONT,align:o.al,verticalAlign:'middle',backgroundColor:'#f0505f',padding:[3,4,3,4]}};}});

// TTM
series.push({type:'bar',xAxisIndex:1,yAxisIndex:1,z:3,silent:true,animation:false,barWidth:2,data:idx(ttmValues),
  itemStyle:{color:p=>{const v=ttmValues[p.dataIndex],q=p.dataIndex?ttmValues[p.dataIndex-1]:v-1;return v>=0?(v>q?'#00bcd4':'#0a7f8d'):(v<q?'#b066b8':'#960e9c');}}});
series.push({type:'scatter',xAxisIndex:1,yAxisIndex:1,z:4,silent:true,animation:false,symbol:'circle',symbolSize:6,data:ttmValues.map((v,i)=>[i,0]),
  itemStyle:{color:p=>squeezeBars.includes(p.dataIndex)?'#b50f1c':'#0b5f16'}});

// Godmode
lineS(2,idx(godTeal),'#1b6c78',2.2,3,{areaStyle:{origin:godBase,color:'rgba(29,135,150,0.42)',opacity:1}});
hLevel(2,godLevels[0],'#85878c',2,[13,9],4,243);hLevel(2,godLevels[3],'#85878c',2,[13,9],4,243);
hLevel(2,godLevels[1],'#c2101b',3,[4,4],4);hLevel(2,godLevels[2],'#0b8a40',3,[4,4],4);
lineS(2,idx(godGreen),'#0a6f12',3,5);
lineS(2,idx(godRed),'#b80f1a',3.4,6);
series.push({type:'scatter',xAxisIndex:2,yAxisIndex:2,z:6,silent:true,animation:false,symbolSize:4,data:godRedDots,itemStyle:{color:'#a3101c'}});

// MACD
series.push({type:'bar',xAxisIndex:3,yAxisIndex:3,z:3,silent:true,animation:false,barWidth:4,data:idx(macdHist),
  itemStyle:{color:p=>{const v=macdHist[p.dataIndex],q=p.dataIndex?macdHist[p.dataIndex-1]:v-1;return v>=0?(v>=q?'#02a8b8':'#0a0ad0'):(v<=q?'#b01015':'#5a0a0e');}}});
hLevel(3,0,'#ffffff',2.4,'solid',4);
lineS(3,idx(macdLine),'#b80f14',4,5);
const inAbove=i=>macdAbove.some(r=>i>=r[0]&&i<=r[1]);
lineS(3,macdLine.map((v,i)=>[i,inAbove(i)?v:null]),'#11b011',4,5.5,{connectNulls:false});
lineS(3,macdSignal,'#b0a312',2.2,6);
series.push({type:'scatter',xAxisIndex:3,yAxisIndex:3,z:7,silent:true,animation:false,symbolSize:8,data:macdAbove.map(r=>[r[0],macdLine[r[0]]]),itemStyle:{color:'#18e018'}});
series.push({type:'scatter',xAxisIndex:3,yAxisIndex:3,z:7,silent:true,animation:false,symbolSize:8,data:macdAbove.map(r=>[r[1],macdLine[r[1]]]),itemStyle:{color:'#e01014'}});

// Vix
series.push({type:'bar',xAxisIndex:4,yAxisIndex:4,z:3,silent:true,animation:false,barWidth:3,data:idx(vixValues),
  itemStyle:{color:p=>vixFlagged.includes(p.dataIndex)?'#0fa90f':'#555860'}});

// ---------- static text and chrome
const txt=(x,y,text,fill,font,extra)=>({type:'text',silent:true,z:50,style:Object.assign({x,y,text,fill,font,textVerticalAlign:'middle',verticalAlign:'middle'},extra||{})});
const F12='12.5px '+FONT,B12='bold 11.8px '+FONT;
const DR='#a3141a';
const hline=(y)=>({type:'line',z:30,silent:true,shape:{x1:6,y1:y,x2:2627,y2:y},style:{stroke:'#83868d',lineWidth:1.4}});
const cover=(x,y,w,h)=>({type:'rect',z:25,silent:true,shape:{x,y,width:w,height:h},style:{fill:'#131722'}});
const graphic=[
 {type:'rect',z:-100,silent:true,shape:{x:6,y:43,width:2621,height:1462},style:{fill:'#131722'}},
 {type:'rect',z:40,silent:true,shape:{x:6,y:43,width:2621,height:1462},style:{fill:'none',stroke:'#85888e',lineWidth:1.4}},
 // axis labels are cut off at the pane edges
 cover(7,1480,54,8),cover(2576,1480,50,8),cover(7,1020,54,7.5),cover(2576,1020,50,7.5),
 hline(837.5),hline(1027.5),hline(1267.5),hline(1444.5),
 txt(6,12,'ToddGreen','#37aee2',F12),
 txt(76,12,'published on TradingView.com, August 16, 2018 01:05 UTC','#222',F12),
 txt(6,30,'FX_IDC:XAUUSD, 1D','#111',B12),
 txt(129,30,'1167.11','#222',F12),
 {type:'polygon',z:50,silent:true,shape:{points:[[178,25],[190,25],[184,36]]},style:{fill:'#8f0d12'}},
 txt(192,30,'\u22127.59 (\u22120.65%)','#222',F12),
 txt(281,30,'O:','#111',B12),txt(295,30,'1175.05',DR,F12),
 txt(345,30,'H:','#111',B12),txt(359,30,'1176.27',DR,F12),
 txt(409,30,'L:','#111',B12),txt(420,30,'1160.37',DR,F12),
 txt(470,30,'C:','#111',B12),txt(482,30,'1167.11',DR,F12),
 txt(72,60.7,'GOLD / U.S. DOLLAR, 1D, FX_IDC',TXT,'bold 12.2px '+LBL),
 txt(72,77.7,'Ichimoku (9, 26, 52, 26)',TXT,'12.7px '+LBL),
 txt(72,95,'CA_-_RSI_Bol_Strat_1.1 (6, 200, 1, 0, fixed, 1, 100000, Default, 0, percent, 0)',TXT,'12.7px '+LBL),
 txt(72,111.6,'VPVR (Number Of Rows, 50, Up/Down, 70)',TXT,'12.7px '+LBL),
 txt(72,855,'TTM Squeeze (20)',TXT,'12.7px '+LBL),
 txt(72,1043.5,'Godmode3.1 (9, 6, 3)',TXT,'12.7px '+LBL),
 txt(72,1285,'CM_Ult_MacD_MTF (60, 12, 26, 9)',TXT,'12.7px '+LBL),
 txt(72,1462,'CM_Williams_Vix_Fix (22, 20, 2, 50, 0.85, 1.01)',TXT,'12.7px '+LBL),
 // flag marker
 {type:'circle',z:45,silent:true,shape:{cx:1665,cy:821,r:14},style:{fill:'#f4f4f4',stroke:'#f09a3a',lineWidth:2.5}},
 {type:'rect',z:46,silent:true,shape:{x:1653,y:813,width:24,height:5},style:{fill:'#2b4fa0'}},
 {type:'rect',z:46,silent:true,shape:{x:1653,y:821,width:24,height:3},style:{fill:'#d8313a'}},
 {type:'rect',z:46,silent:true,shape:{x:1654,y:827,width:22,height:3},style:{fill:'#d8313a'}},
 // footer
 txt(6,1525,'Created with','#222','13px '+FONT),
 {type:'circle',z:50,silent:true,shape:{cx:95,cy:1529,r:6},style:{fill:'#4fc0ef'}},
 {type:'circle',z:50,silent:true,shape:{cx:101,cy:1524,r:7.5},style:{fill:'#4fc0ef'}},
 {type:'circle',z:50,silent:true,shape:{cx:106,cy:1529,r:6},style:{fill:'#4fc0ef'}},
 {type:'polyline',z:51,silent:true,shape:{points:[[91,1534],[96,1525],[101,1532],[107,1523],[111,1533]]},style:{fill:'none',stroke:'#fff',lineWidth:2}},
 txt(118,1525,'TradingView','#37aee2','13px '+FONT)
];

const chart=echarts.init(document.getElementById('c'),null,{renderer:'canvas'});
chart.setOption({animation:false,backgroundColor:'#f1f4f8',grid,xAxis,yAxis,series,graphic,tooltip:{show:false}});
</script></body></html>
